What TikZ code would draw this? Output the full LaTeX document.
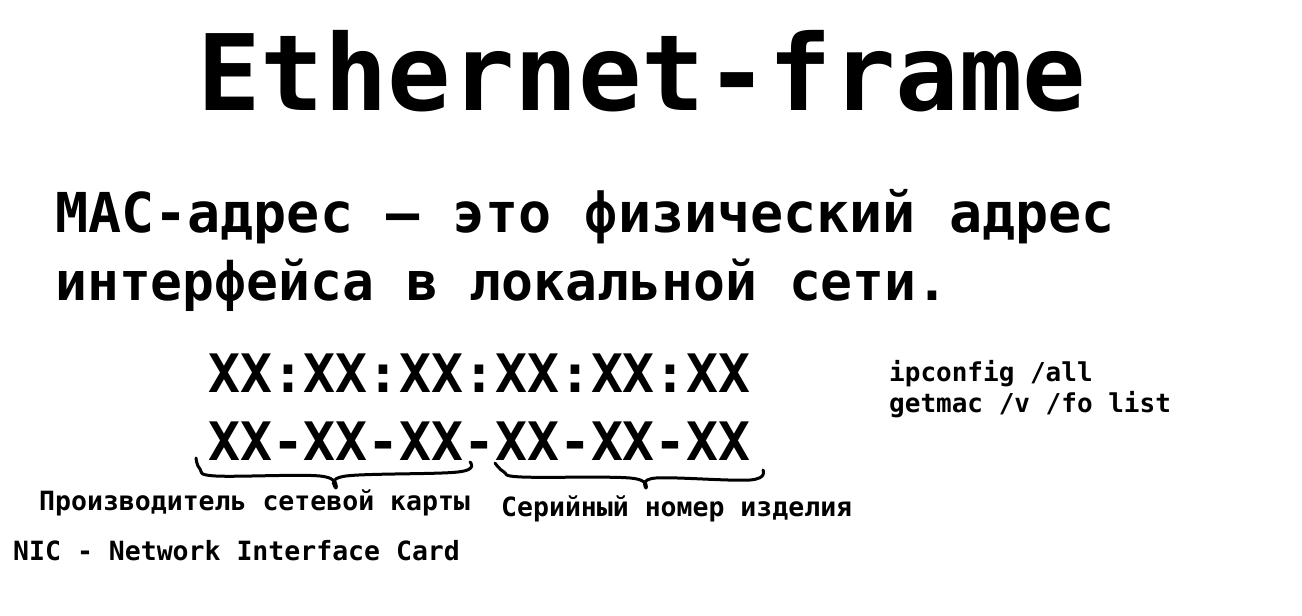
\documentclass[tikz,border=0pt]{standalone}
\usepackage{fontspec}
\setmainfont{DejaVu Sans Mono}
\tikzset{
  txt/.style={anchor=base west, inner sep=0pt, font=\bfseries},
  hbrace/.style={line width=3pt, line cap=round, line join=round}
}
\begin{document}
\begin{tikzpicture}[x=1pt,y=-1pt]
\useasboundingbox (0,0) rectangle (1302,616);
% title
\node[txt, font=\bfseries\fontsize{105.5}{110}\selectfont] (title) at (197,110) {Ethernet-frame};
% definition
\node[txt, font=\bfseries\fontsize{55}{60}\selectfont] (def1) at (55,232) {MAC-адрес — это физический адрес};
\node[txt, font=\bfseries\fontsize{53}{60}\selectfont] (def2) at (55,300) {интерфейса в локальной сети.};
% address formats
\node[txt, font=\bfseries\fontsize{53}{58}\selectfont] (macA) at (208,392) {XX:XX:XX:XX:XX:XX};
\node[txt, font=\bfseries\fontsize{53}{58}\selectfont] (macB) at (208,460) {XX-XX-XX-XX-XX-XX};
% commands
\node[txt, font=\bfseries\fontsize{26}{30}\selectfont] (cmd1) at (889,381) {ipconfig /all};
\node[txt, font=\bfseries\fontsize{26}{30}\selectfont] (cmd2) at (889,412) {getmac /v /fo list};
% braces
\draw[hbrace] plot[smooth, tension=0.6] coordinates {(196,458) (200,469) (216,476) (320,476) (336,488)};
\draw[hbrace] plot[smooth, tension=0.6] coordinates {(336,488) (346,476) (458,472) (470,462)};
\draw[hbrace] plot[smooth, tension=0.6] coordinates {(495,463) (504,472) (522,477) (630,478) (646,488)};
\draw[hbrace] plot[smooth, tension=0.6] coordinates {(646,488) (656,478) (750,480) (763,470)};
% labels
\node[txt, font=\bfseries\fontsize{26.5}{30}\selectfont] (vendor) at (39,510) {Производитель сетевой карты};
\node[txt, font=\bfseries\fontsize{26.5}{30}\selectfont] (serial) at (501,516) {Серийный номер изделия};
\node[txt, font=\bfseries\fontsize{26.5}{30}\selectfont] (nic) at (13,560) {NIC - Network Interface Card};
\end{tikzpicture}
\end{document}
